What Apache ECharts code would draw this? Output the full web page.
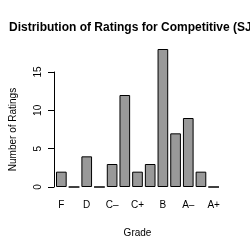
<!DOCTYPE html>
<html>
<head>
<meta charset="utf-8">
<script src="https://cdn.jsdelivr.net/npm/echarts@6/dist/echarts.min.js"></script>
<style>
html, body { margin: 0; padding: 0; background: #fff; }
#main { width: 250px; height: 250px; }
</style>
</head>
<body>
<div id="main"></div>
<script type="text/javascript">
// grades, lowest to highest
var grades = ['F', 'D–', 'D', 'D+', 'C–', 'C', 'C+', 'B–', 'B', 'B+', 'A–', 'A', 'A+'];
var counts = [2, 0, 4, 0, 3, 12, 2, 3, 18, 7, 9, 2, 0];
var yTicks = [0, 5, 10, 15];

var font = 'Liberation Sans';
var myChart = echarts.init(document.getElementById('main'));

var option = {
	animation: false,
	title: {
		text: 'Distribution of Ratings for Competitive (SJSU)',
		left: 4,
		top: 17,
		textStyle: { fontFamily: font, fontSize: 12, fontWeight: 'bold', color: '#000' }
	},
	grid: [
		// grid 0: only the R style y axis (0..15)
		{ left: 49, right: 30, top: 72, bottom: 63 },
		// grid 1: the bars
		{ left: 55, right: 30, top: 49, bottom: 63 }
	],
	xAxis: [{
		gridIndex: 0,
		type: 'value',
		show: false
	}, {
		gridIndex: 1,
		type: 'category',
		data: grades,
		name: 'Grade',
		nameLocation: 'middle',
		nameGap: 41,
		nameTextStyle: { fontFamily: font, fontSize: 10, color: '#000' },
		axisLine: { show: false },
		axisTick: { show: false },
		axisLabel: { interval: 1, margin: 13, fontFamily: font, fontSize: 10, color: '#000' }
	}],
	yAxis: [{
		gridIndex: 0,
		type: 'value',
		min: yTicks[0],
		max: yTicks[yTicks.length - 1],
		interval: 5,
		name: 'Number of Ratings',
		nameLocation: 'middle',
		nameGap: 36,
		nameTextStyle: { fontFamily: font, fontSize: 10, color: '#000' },
		axisLine: { show: true, lineStyle: { color: '#000', width: 1 } },
		axisTick: { show: true, length: 6, lineStyle: { color: '#000' } },
		axisLabel: { rotate: 90, margin: 11, fontFamily: font, fontSize: 10, color: '#000' },
		splitLine: { show: false }
	}, {
		gridIndex: 1,
		type: 'value',
		min: 0,
		max: 18,
		show: false,
		splitLine: { show: false }
	}],
	series: [{
		type: 'bar',
		xAxisIndex: 1,
		yAxisIndex: 1,
		data: counts,
		barCategoryGap: '16%',
		itemStyle: {
			color: '#999999',
			borderColor: '#000',
			borderWidth: 1
		}
	}]
};
myChart.setOption(option);
</script>
</body>
</html>
